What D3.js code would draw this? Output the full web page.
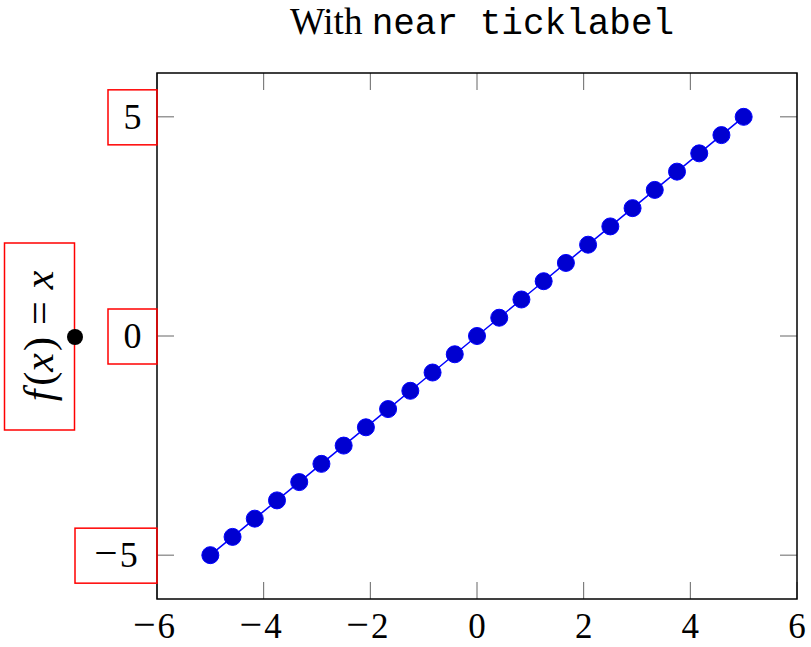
<!DOCTYPE html>
<html>
<head>
<meta charset="utf-8">
<script src="https://cdn.jsdelivr.net/npm/d3@7"></script>
<style>
  body { margin: 0; background: #fff; }
  svg { display: block; }
</style>
</head>
<body>
<div id="chart-container"></div>
<script>
// Data
const xValues = [-5, -4.583, -4.167, -3.75, -3.333, -2.917, -2.5, -2.083, -1.667, -1.25,
                 -0.833, -0.417, 0, 0.417, 0.833, 1.25, 1.667, 2.083, 2.5, 2.917,
                 3.333, 3.75, 4.167, 4.583, 5];
const yValues = [-5, -4.583, -4.167, -3.75, -3.333, -2.917, -2.5, -2.083, -1.667, -1.25,
                 -0.833, -0.417, 0, 0.417, 0.833, 1.25, 1.667, 2.083, 2.5, 2.917,
                 3.333, 3.75, 4.167, 4.583, 5];
const xTicks = [-6, -4, -2, 0, 2, 4, 6];
const yTicks = [-5, 0, 5];

function init() {
    const width = 811, height = 647;
    const left = 157, right = 797, top = 73, bottom = 599;
    const serif = "'Liberation Serif', 'DejaVu Serif', serif";
    const mono = "'Liberation Mono', 'DejaVu Sans Mono', monospace";

    // writes a number with a wide minus like TeX does
    function number(sel, d) {
        if (d < 0) {
            sel.append("tspan").attr("font-size", "1.15em").text("\u2212");
            sel.append("tspan").attr("dx", 2).text(Math.abs(d));
        } else {
            sel.append("tspan").text(d);
        }
    }

    const svg = d3.select("#chart-container")
        .append("svg")
        .attr("width", width)
        .attr("height", height);

    const x = d3.scaleLinear().domain([-6, 6]).range([left, right]);
    const y = d3.scaleLinear().domain([-6, 6]).range([bottom, top]);
    const tickLen = 17;

    // ticks on all four sides
    const ticks = svg.append("g").attr("stroke", "#666").attr("stroke-width", 1);
    xTicks.forEach(t => {
        ticks.append("line").attr("x1", x(t)).attr("x2", x(t)).attr("y1", bottom).attr("y2", bottom - tickLen);
        ticks.append("line").attr("x1", x(t)).attr("x2", x(t)).attr("y1", top).attr("y2", top + tickLen);
    });
    yTicks.forEach(t => {
        ticks.append("line").attr("x1", left).attr("x2", left + tickLen).attr("y1", y(t)).attr("y2", y(t));
        ticks.append("line").attr("x1", right).attr("x2", right - tickLen).attr("y1", y(t)).attr("y2", y(t));
    });

    // frame
    svg.append("rect")
        .attr("x", left).attr("y", top)
        .attr("width", right - left).attr("height", bottom - top)
        .attr("fill", "none").attr("stroke", "#000").attr("stroke-width", 1.5);

    // x tick labels
    xTicks.forEach(t => {
        const txt = svg.append("text")
            .attr("x", x(t) + (t < 0 ? -3 : 0))
            .attr("y", 638)
            .attr("text-anchor", "middle")
            .attr("font-family", serif)
            .attr("font-size", 35);
        number(txt, t);
    });

    // y tick labels in red boxes
    yTicks.forEach(t => {
        const g = svg.append("g");
        const txt = g.append("text")
            .attr("y", y(t) + 12)
            .attr("text-anchor", "middle")
            .attr("font-family", serif)
            .attr("font-size", 36);
        number(txt, t);
        const w = t < 0 ? 82 : 49;
        txt.attr("x", left - w / 2);
        g.insert("rect", "text")
            .attr("x", left - w).attr("y", y(t) - 27)
            .attr("width", w).attr("height", 55)
            .attr("fill", "none").attr("stroke", "red").attr("stroke-width", 1.5);
    });

    // y axis label in red box with anchor dot
    svg.append("rect")
        .attr("x", 4.5).attr("y", 243)
        .attr("width", 70).attr("height", 187)
        .attr("fill", "none").attr("stroke", "red").attr("stroke-width", 1.5);
    const ylab = svg.append("text")
        .attr("transform", "translate(53,336) rotate(-90)")
        .attr("text-anchor", "middle")
        .attr("font-family", serif)
        .attr("font-size", 42);
    ylab.append("tspan").attr("font-style", "italic").text("f");
    ylab.append("tspan").attr("dx", 4).text("(");
    ylab.append("tspan").attr("font-style", "italic").text("x");
    ylab.append("tspan").attr("dx", 2).text(")");
    ylab.append("tspan").attr("dx", 12).text("=");
    ylab.append("tspan").attr("dx", 12).attr("font-style", "italic").text("x");
    svg.append("circle")
        .attr("cx", 75).attr("cy", 337).attr("r", 8).attr("fill", "#000");

    // title
    const title = svg.append("text")
        .attr("x", 482).attr("y", 34)
        .attr("text-anchor", "middle");
    title.append("tspan").attr("font-family", serif).attr("font-size", 37).text("With ");
    title.append("tspan").attr("font-family", mono).attr("font-size", 36).text("near ticklabel");

    // line and markers
    const pts = xValues.map((v, i) => [v, yValues[i]]);
    svg.append("path")
        .datum(pts)
        .attr("d", d3.line().x(d => x(d[0])).y(d => y(d[1])))
        .attr("fill", "none").attr("stroke", "#0000ff").attr("stroke-width", 1.5);
    svg.append("g").selectAll("circle")
        .data(pts).enter().append("circle")
        .attr("cx", d => x(d[0])).attr("cy", d => y(d[1]))
        .attr("r", 8.5)
        .attr("fill", "#0000d0").attr("stroke", "#0000ff").attr("stroke-width", 1);
}

window.onload = init;
</script>
</body>
</html>
